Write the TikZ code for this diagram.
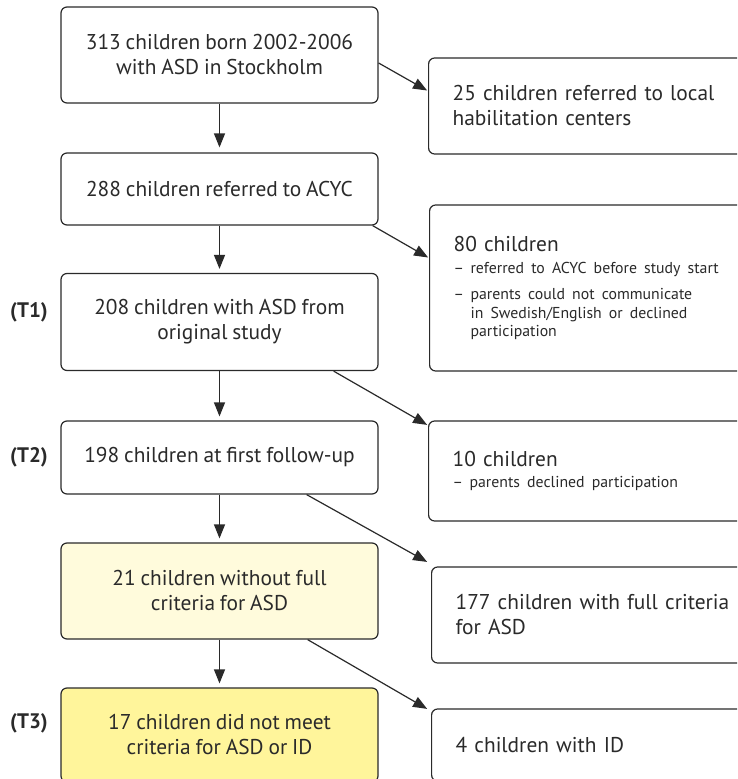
\documentclass[tikz,border=0pt]{standalone}
\usepackage{fontspec}
\setmainfont{PT Sans}[WordSpace=0.85]
\usetikzlibrary{arrows.meta}
\definecolor{ln}{HTML}{2A2A2A}
\definecolor{ylight}{HTML}{FFFBDC}
\definecolor{ydark}{HTML}{FFF59B}
\newcommand{\mainf}{\fontsize{21.4}{25}\selectfont}
\newcommand{\smallf}{\fontsize{15.8}{18.5}\selectfont}
\newcommand{\dashitem}{\makebox[17pt][l]{–}}
\newcommand{\contline}{\hspace*{17pt}}
\tikzset{
  lbox/.style={draw=ln, line width=1.2pt, rounded corners=6pt, align=center,
    minimum width=317pt, inner sep=0pt, text=ln, font=\mainf},
  rbox/.style={draw=ln, line width=1.2pt, rounded corners=6pt, align=left,
    text width=300pt, inner xsep=24pt, inner ysep=0pt, anchor=west, text=ln, font=\mainf},
  tlab/.style={anchor=east, inner sep=0pt, text=ln, font=\fontsize{21}{24}\selectfont\bfseries},
  arr/.style={draw=ln, line width=1.2pt, -{Triangle[length=14pt,width=11pt]}},
}
\begin{document}
\begin{tikzpicture}[x=1pt,y=-1pt]
\clip (0,0) rectangle (737,779);
\fill[white] (0,0) rectangle (737,779);
% left column
\node[lbox, minimum height=96pt] (b1) at (219.5,55) {313 children born 2002-2006\\with ASD in Stockholm};
\node[lbox, minimum height=72pt] (b2) at (219.5,189) {288 children referred to ACYC};
\node[lbox, minimum height=97pt] (b3) at (219.5,322) {208 children with ASD from\\original study};
\node[lbox, minimum height=73pt] (b4) at (219.5,457.5) {198 children at first follow-up};
\node[lbox, minimum height=96pt, fill=ylight] (b5) at (219.5,591) {21 children without full\\criteria for ASD};
\node[lbox, minimum height=94pt, fill=ydark] (b6) at (219.5,735) {17 children did not meet\\criteria for ASD or ID};
% labels
\node[tlab] (t1) at (48,312) {(T1)};
\node[tlab] (t2) at (48,457) {(T2)};
\node[tlab] (t3) at (48,723) {(T3)};
% right column
\node[rbox, minimum height=96pt] (r1) at (428,106) {25 children referred to local\\habilitation centers};
\node[rbox, minimum height=166pt] (r2) at (429,288) {{\mainf 80 children\par}\vspace{3pt}%
{\smallf\noindent\dashitem referred to ACYC before study start\par}\vspace{8pt}%
{\smallf\noindent\dashitem parents could not communicate\\\contline in Swedish/English or declined\\\contline participation\par}};
\node[rbox, minimum height=100pt] (r3) at (428,471) {{\mainf 10 children\par}\vspace{3pt}%
{\smallf\noindent\dashitem parents declined participation\par}};
\node[rbox, minimum height=96pt] (r4) at (431,615) {177 children with full criteria\\for ASD};
\node[rbox, minimum height=72pt] (r5) at (431,745) {4 children with ID};
% vertical arrows
\draw[arr, shorten >=5pt] (b1) -- (b2);
\draw[arr, shorten >=4pt] (b2) -- (b3);
\draw[arr, shorten >=4pt] (b3) -- (b4);
\draw[arr, shorten >=4pt] (b4) -- (b5);
\draw[arr, shorten >=4pt] (b5) -- (b6);
% diagonal arrows
\draw[arr, shorten >=1pt] ([yshift=-8pt]b1.east) -- ([yshift=15pt]r1.west);
\draw[arr, shorten >=1pt] ([xshift=-6pt]b2.south east) -- ([yshift=30pt]r2.west);
\draw[arr, shorten >=1pt] ([xshift=-45pt]b3.south east) -- ([yshift=-5pt]r3.north west);
\draw[arr, shorten >=1pt] ([xshift=-72pt]b4.south east) -- ([xshift=-3pt,yshift=4pt]r4.north west);
\draw[arr, shorten >=1pt] ([xshift=-71pt]b5.south east) -- ([xshift=-3pt,yshift=-1pt]r5.north west);
\end{tikzpicture}
\end{document}
